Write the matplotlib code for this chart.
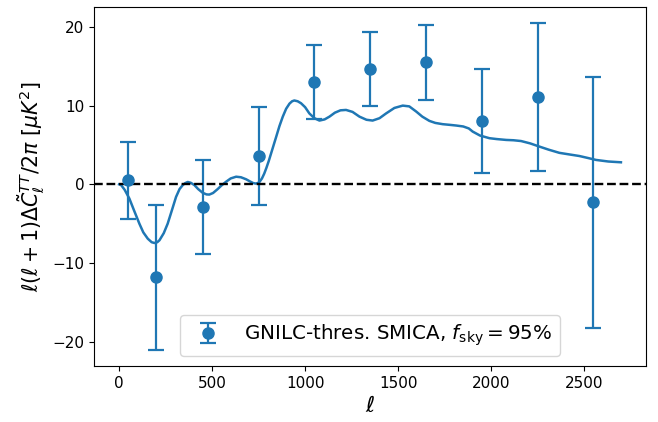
import numpy as np
import matplotlib
matplotlib.use("Agg")
import matplotlib.pyplot as plt

# Data points (binned)
ell_bins = [50, 200, 450, 750, 1050, 1350, 1650, 1950, 2250, 2550]
dcl_vals = [0.5, -11.8, -2.9, 3.6, 13.0, 14.7, 15.5, 8.1, 11.1, -2.3]
dcl_errs = [4.9, 9.2, 5.95, 6.2, 4.7, 4.7, 4.8, 6.6, 9.35, 15.95]

# Smooth theory curve
curve_ell = [0, 11, 30, 55, 80, 109, 130, 154, 175, 190, 205, 217, 240, 261, 285, 306, 325,
             342, 355, 369, 385, 405, 425, 449, 470, 485, 505, 530, 550, 575, 600, 629, 655,
             683, 705, 720, 733, 745, 756, 768, 780, 792, 805, 818, 831, 844, 862, 880, 898,
             916, 930, 942, 960, 978, 1000, 1023, 1050, 1077, 1105, 1131, 1160, 1190, 1220,
             1255, 1292, 1330, 1363, 1400, 1435, 1480, 1525, 1560, 1597, 1630, 1668, 1700,
             1740, 1780, 1812, 1850, 1880, 1901, 1940, 1991, 2030, 2081, 2120, 2161, 2210,
             2259, 2310, 2367, 2420, 2474, 2520, 2564, 2630, 2698]
curve_val = [0.0, -0.1, -0.7, -1.8, -3.3, -5.0, -6.1, -6.9, -7.35, -7.45, -7.35, -7.1, -6.2, -5.0,
             -3.2, -1.6, -0.6, -0.1, 0.15, 0.3, 0.2, -0.1, -0.6, -1.07, -1.28, -1.3, -1.1, -0.6,
             -0.15, 0.33, 0.75, 0.97, 0.9, 0.64, 0.35, 0.17, 0.1, 0.15, 0.35, 0.75, 1.35, 2.1,
             3.0, 4.0, 5.0, 6.0, 7.4, 8.6, 9.6, 10.25, 10.55, 10.65, 10.55, 10.3, 9.8, 9.0, 8.4,
             8.1, 8.25, 8.6, 9.1, 9.4, 9.45, 9.2, 8.6, 8.2, 8.1, 8.4, 9.0, 9.7, 10.0, 9.9, 9.25,
             8.6, 8.06, 7.8, 7.64, 7.55, 7.47, 7.35, 7.1, 6.7, 6.2, 5.86, 5.75, 5.64, 5.6, 5.5,
             5.2, 4.8, 4.4, 4.0, 3.8, 3.6, 3.35, 3.1, 2.9, 2.8]

blue = "#1f77b4"

fig = plt.figure(figsize=(6.58, 4.22), dpi=100)
ax = fig.add_axes([0.1429, 0.1327, 0.8389, 0.8507])

ax.plot(curve_ell, curve_val, color=blue, lw=1.8)
ax.errorbar(ell_bins, dcl_vals, yerr=dcl_errs, fmt='o', color=blue, ms=8, capsize=6,
            elinewidth=1.6, capthick=1.6, label=r'GNILC-thres. SMICA, $f_{\rm sky} = 95\%$')
ax.axhline(0, color='k', ls='--', lw=1.7)

ax.set_xticks([0, 500, 1000, 1500, 2000, 2500])
ax.set_yticks([-20, -10, 0, 10, 20])
ax.tick_params(labelsize=11)
ax.set_xlabel(r'$\ell$', fontsize=16)
ax.set_ylabel(r'$\ell(\ell+1)\Delta\tilde{C}_\ell^{TT}/2\pi\ [\mu K^2]$', fontsize=14.8)
ax.legend(loc='lower center', fontsize=14.3)

fig.savefig('out.png', dpi=100)
